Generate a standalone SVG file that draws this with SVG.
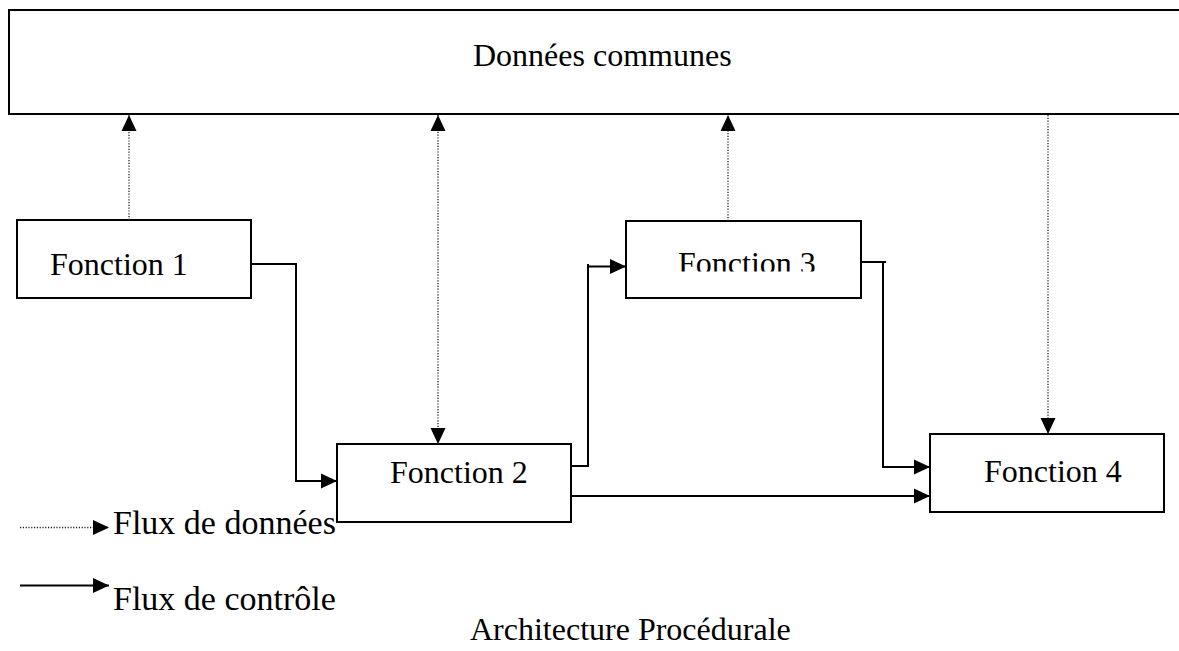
<svg xmlns="http://www.w3.org/2000/svg" width="1179" height="651" viewBox="0 0 1179 651">
  <style>
    .box { fill: #fff; stroke: #000; stroke-width: 2; }
    .lbl { font-family: "Liberation Serif", "Times New Roman", serif; font-size: 32px; fill: #000; }
    .leg { font-family: "Liberation Serif", "Times New Roman", serif; font-size: 34px; fill: #000; }
    .ctl { fill: none; stroke: #000; stroke-width: 2; }
    .dat { fill: none; stroke: #222; stroke-width: 1.3; stroke-dasharray: 1.2 1.6; }
  </style>
  <defs>
    <marker id="ah" markerUnits="userSpaceOnUse" markerWidth="16" markerHeight="16" viewBox="0 0 16 16" refX="16" refY="8" orient="auto-start-reverse">
      <path d="M0,0.5 L16,8 L0,15.5 z" fill="#000"/>
    </marker>
    <clipPath id="clip3">
      <rect x="600" y="225" width="260" height="46.5"/>
    </clipPath>
  </defs>

  <g id="donnees-communes">
    <rect class="box" x="9" y="10" width="1180" height="104"/>
    <text class="lbl" x="473" y="66">Données communes</text>
  </g>

  <g id="fonction1">
    <rect class="box" x="17" y="220" width="234" height="78"/>
    <text class="lbl" x="50" y="275">Fonction 1</text>
  </g>

  <g id="fonction2">
    <rect class="box" x="337" y="444" width="234" height="78"/>
    <text class="lbl" x="390" y="483">Fonction 2</text>
  </g>

  <g id="fonction3">
    <rect class="box" x="626" y="221" width="235" height="77"/>
    <text class="lbl" x="678" y="274" clip-path="url(#clip3)">Fonction 3</text>
  </g>

  <g id="fonction4">
    <rect class="box" x="930" y="434" width="234" height="78"/>
    <text class="lbl" x="984" y="482">Fonction 4</text>
  </g>

  <g id="connectors">
    <line class="dat" x1="129" y1="220" x2="129" y2="115" marker-end="url(#ah)"/>
    <line class="dat" x1="438" y1="115" x2="438" y2="444" marker-start="url(#ah)" marker-end="url(#ah)"/>
    <line class="dat" x1="728" y1="221" x2="728" y2="115" marker-end="url(#ah)"/>
    <line class="dat" x1="1048" y1="115" x2="1048" y2="434" marker-end="url(#ah)"/>

    <path class="ctl" d="M251,264 H296 V481 H337" marker-end="url(#ah)"/>
    <path class="ctl" d="M571,466 H588 V266.5 H626" marker-end="url(#ah)"/>
    <path class="ctl" d="M588,264 V268"/>
    <path class="ctl" d="M861,262 H886"/>
    <path class="ctl" d="M883,262 V467 H930" marker-end="url(#ah)"/>
    <path class="ctl" d="M571,496 H930" marker-end="url(#ah)"/>
  </g>

  <g id="legend">
    <line class="dat" x1="20" y1="527.5" x2="109" y2="527.5" marker-end="url(#ah)"/>
    <text class="leg" x="113" y="534">Flux de données</text>
    <line class="ctl" x1="20" y1="585.5" x2="109" y2="585.5" marker-end="url(#ah)"/>
    <text class="leg" x="113" y="610">Flux de contrôle</text>
  </g>

  <g id="caption">
    <text class="lbl" x="470" y="640">Architecture Procédurale</text>
  </g>
</svg>
